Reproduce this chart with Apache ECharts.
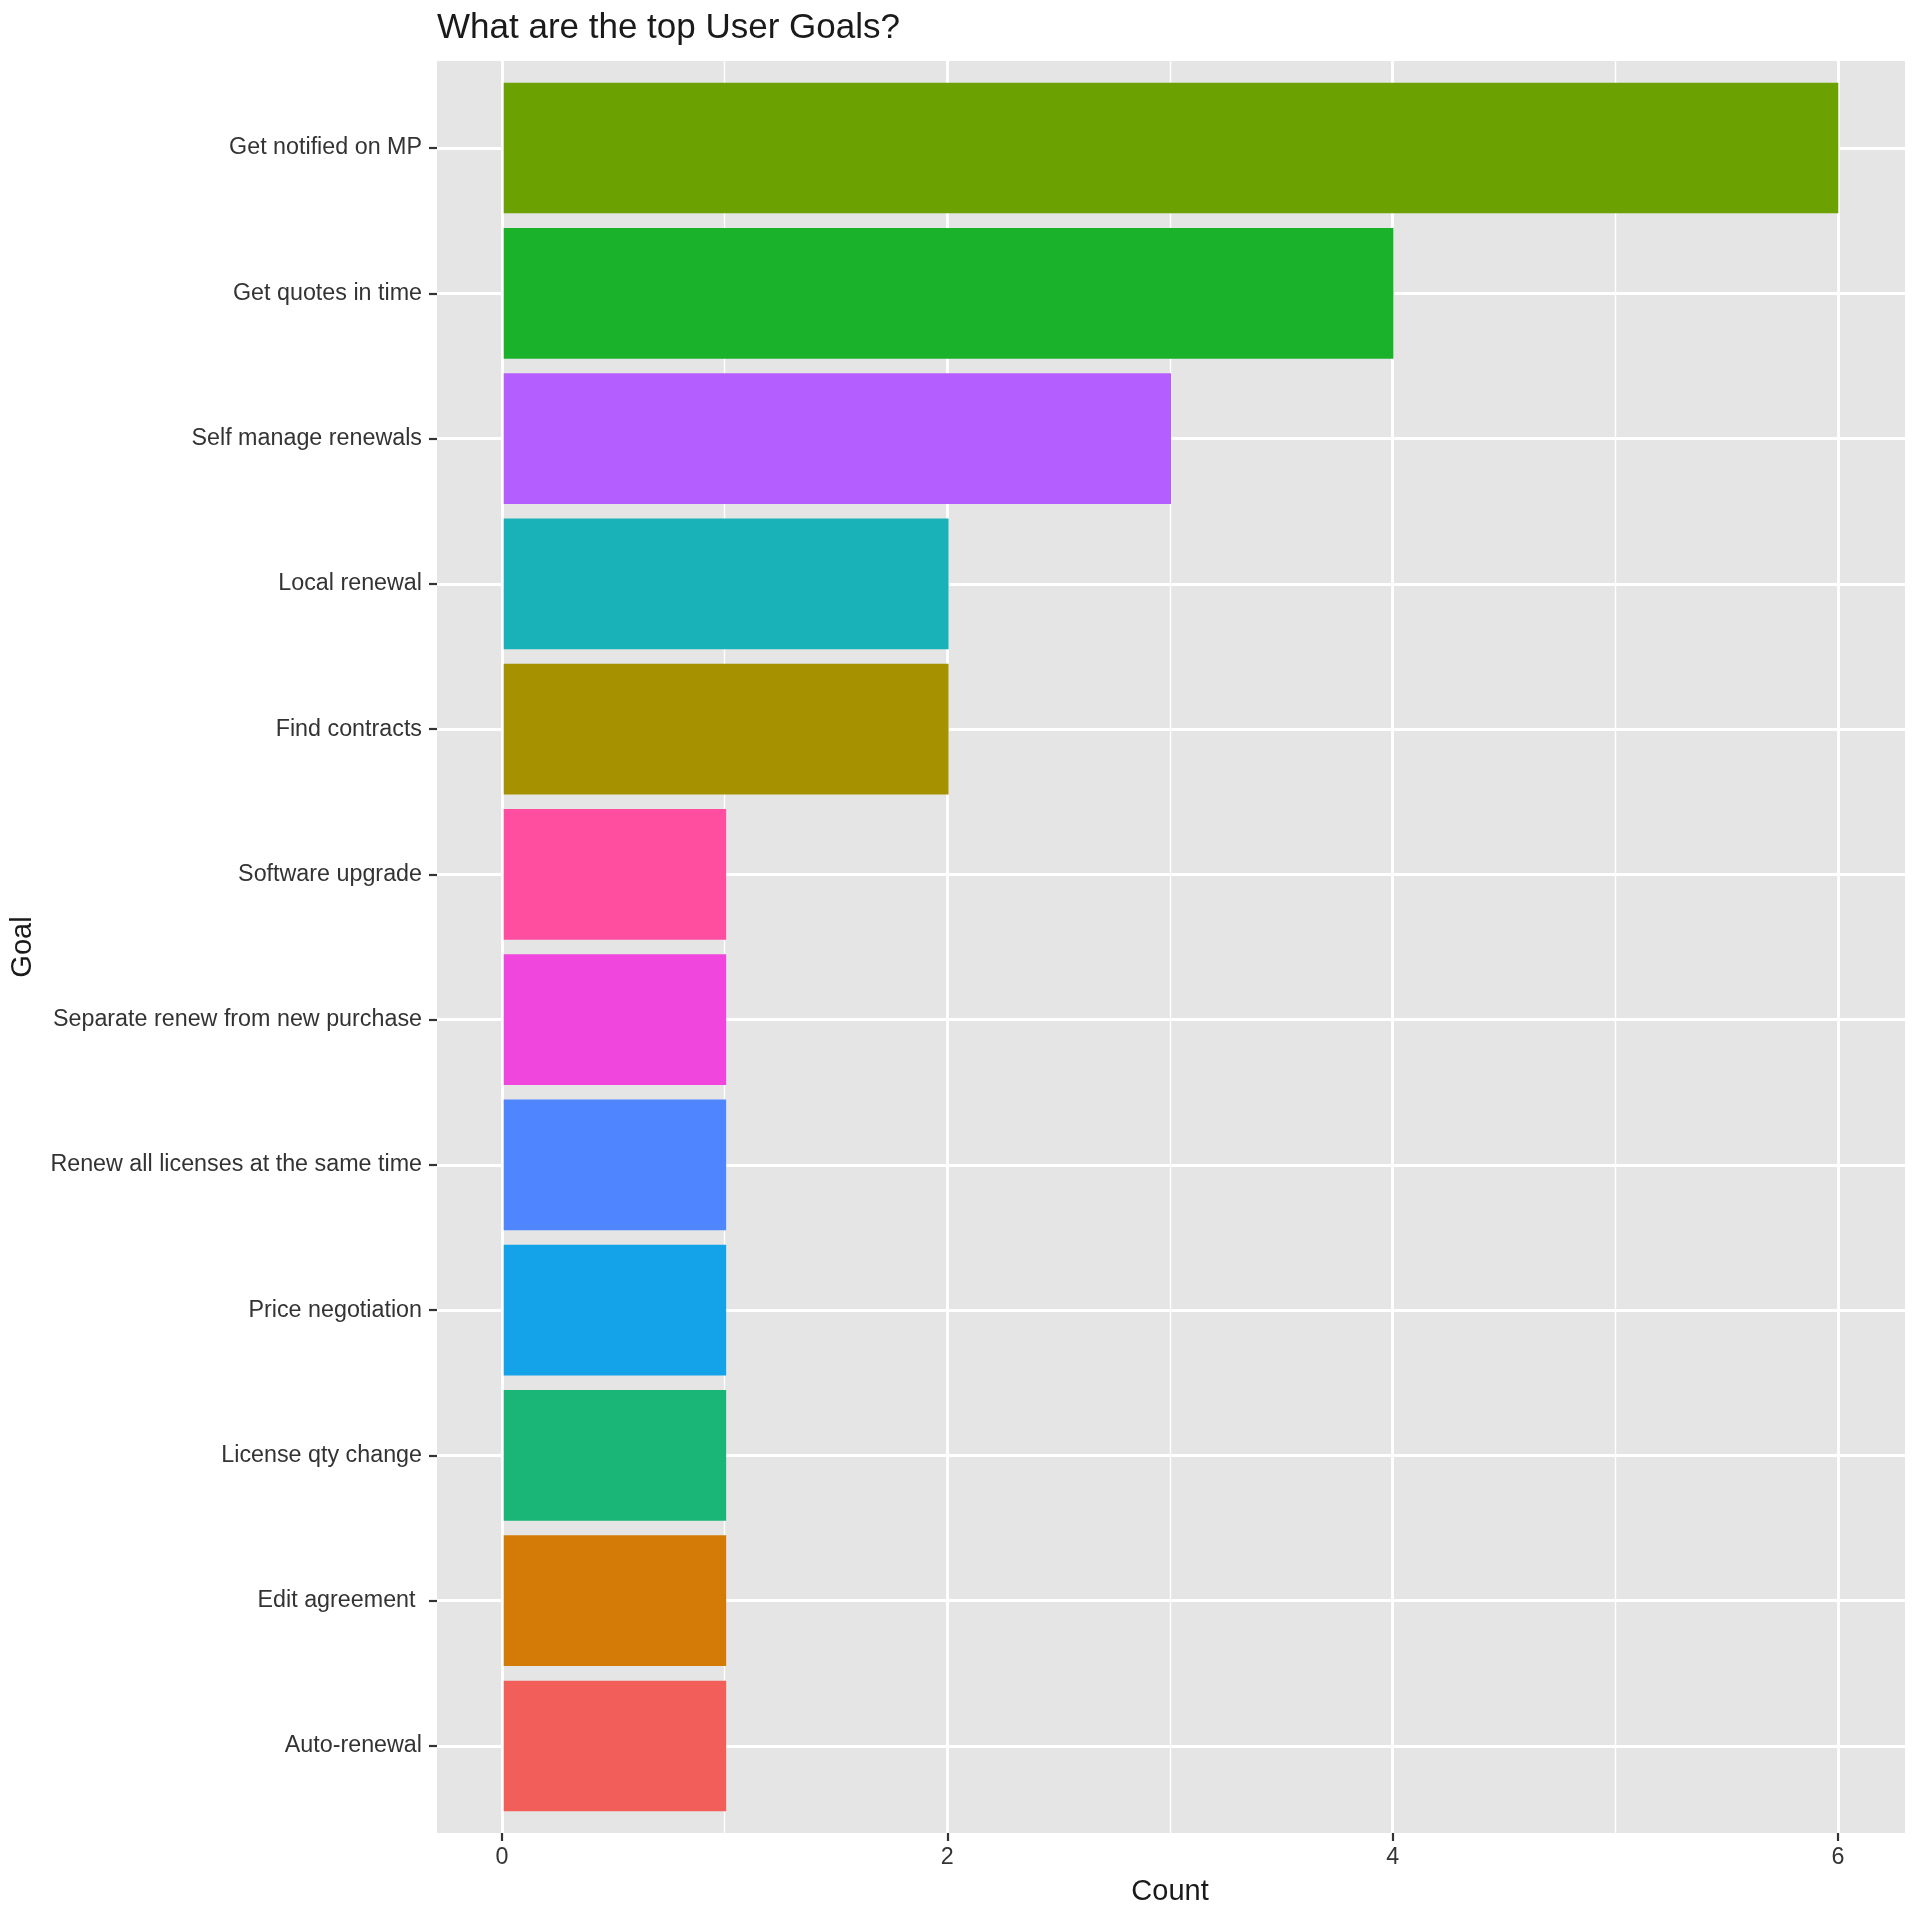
<!DOCTYPE html>
<html>
<head>
<meta charset="utf-8">
<script src="https://cdn.jsdelivr.net/npm/echarts@6/dist/echarts.min.js"></script>
<style>
  html, body { margin: 0; padding: 0; background: #fff; }
  #chart { width: 1920px; height: 1920px; }
</style>
</head>
<body>
<div id="chart"></div>
<script>
// data, top to bottom as drawn
var goals = [
	'Get notified on MP',
	'Get quotes in time',
	'Self manage renewals',
	'Local renewal',
	'Find contracts',
	'Software upgrade',
	'Separate renew from new purchase',
	'Renew all licenses at the same time',
	'Price negotiation',
	'License qty change',
	'Edit agreement ',
	'Auto-renewal'
];
var counts = [6, 4, 3, 2, 2, 1, 1, 1, 1, 1, 1, 1];
var barColors = [
	'#6BA100', '#1AB22B', '#B55EFF', '#1AB2B9', '#A69200', '#FF4DA0',
	'#F046DE', '#4F85FF', '#14A3E8', '#19B677', '#D47A06', '#F25F5A'
];

var font = 'Liberation Sans, Arial, Helvetica, sans-serif';
var chart = echarts.init(document.getElementById('chart'));

var option = {
	backgroundColor: '#fff',
	animation: false,
	title: {
		text: 'What are the top User Goals?',
		left: 437,
		top: 11,
		padding: 0,
		textStyle: { fontFamily: font, fontSize: 35, fontWeight: 'normal', color: '#1a1a1a' }
	},
	grid: [
		// panel background
		{ left: 437, right: 15, top: 61, bottom: 87, show: true, backgroundColor: '#E5E5E5', borderWidth: 0 },
		// vertical grid lines, 0..6
		{ left: 502, right: 82, top: 61, bottom: 87 },
		// bars, centers of first/last category
		{ left: 437, right: 15, top: 148, bottom: 174 }
	],
	xAxis: [
		{ gridIndex: 0, type: 'value', show: false, min: 0, max: 1 },
		{
			gridIndex: 1, type: 'value', min: 0, max: 6, interval: 2,
			name: 'Count', nameLocation: 'middle', nameGap: 44,
			nameTextStyle: { fontFamily: font, fontSize: 29, color: '#1a1a1a' },
			axisLine: { show: false },
			axisTick: { show: true, length: 8, lineStyle: { color: '#333', width: 2.2 } },
			axisLabel: { fontFamily: font, fontSize: 23.3, color: '#333', margin: 13 },
			splitLine: { show: true, lineStyle: { color: '#fff', width: 2.8 } },
			minorTick: { show: false, splitNumber: 2 },
			minorSplitLine: { show: true, lineStyle: { color: '#fff', width: 1.4 } }
		},
		{ gridIndex: 2, type: 'value', show: false, min: -0.3, max: 6.3 }
	],
	yAxis: [
		{ gridIndex: 0, type: 'value', show: false, min: 0, max: 1 },
		{ gridIndex: 1, type: 'value', show: false, min: 0, max: 1 },
		{
			gridIndex: 2, type: 'category', data: goals, inverse: true, boundaryGap: false,
			name: 'Goal', nameLocation: 'middle', nameGap: 400,
			nameTextStyle: { fontFamily: font, fontSize: 29, color: '#1a1a1a' },
			axisLine: { show: false, onZero: false },
			axisTick: { show: true, length: 8, lineStyle: { color: '#333', width: 2.2 } },
			axisLabel: { fontFamily: font, fontSize: 23.3, color: '#333', margin: 15 },
			splitLine: { show: true, lineStyle: { color: '#fff', width: 2.8 } }
		}
	],
	series: [{
		type: 'bar',
		xAxisIndex: 2,
		yAxisIndex: 2,
		barWidth: '90%',
		data: counts.map(function(v, i){
			return { value: v, itemStyle: { color: barColors[i] } };
		})
	}]
};

chart.setOption(option);
</script>
</body>
</html>
